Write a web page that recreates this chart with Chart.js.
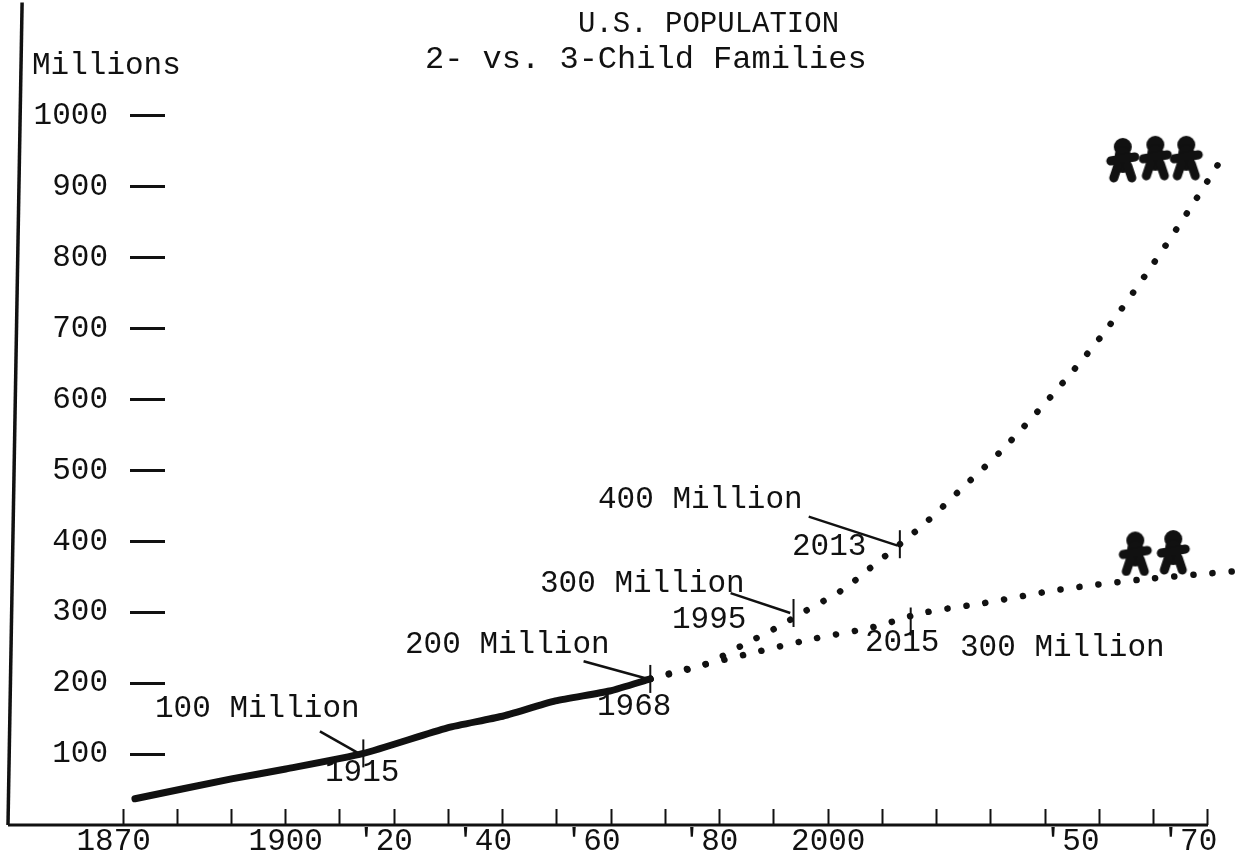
<!DOCTYPE html>
<html>
<head>
<meta charset="utf-8">
<title>U.S. Population</title>
<script src="https://cdn.jsdelivr.net/npm/chart.js@4"></script>
<style>
	body { margin: 0; background: #fff; }
	canvas { display: block; }
</style>
</head>
<body>
<canvas id="population" width="1237" height="859"></canvas>
<script>
const xTickYears = [1870, 1880, 1890, 1900, 1910, 1920, 1930, 1940, 1950, 1960, 1970, 1980, 1990, 2000, 2010, 2020, 2030, 2040, 2050, 2060, 2070];
const xTickLabels = ['1870', '', '', '1900', '', "'20", '', "'40", '', "'60", '', "'80", '', '2000', '', '', '', '', "'50", '', "'70"];
const yTickValues = [100, 200, 300, 400, 500, 600, 700, 800, 900, 1000];

const pastYears = [1872.2, 1890, 1900, 1914.3, 1929.8, 1939.7, 1949.7, 1959.7, 1967.2];
const pastValues = [37, 65, 79, 101, 137, 153, 175, 189, 206];
const threeChildYears = [1967.2, 1977.4, 1984.8, 1989.9, 1995.6, 2002.7, 2007.5, 2013.2, 2018.2, 2024.8, 2031.8, 2041, 2050.3, 2059.5, 2066.9, 2071.8];
const threeChildValues = [206, 227, 256, 276, 301, 332, 361, 396, 428, 476, 527, 604, 689, 787, 872, 931];
const twoChildYears = [1967.2, 1972.4, 1985.1, 1996.9, 2008.2, 2017.4, 2028.7, 2042.7, 2057.5, 2075];
const twoChildValues = [206, 217, 241, 262, 279, 299, 313, 332, 346, 358];

const markYears = [1914.3, 1967.2, 1993.6, 2013.2, 2015.2];
const markValues = [101, 206, 299, 396, 287];

const leaderYears = [[1906.3, 1913.7], [1954.9, 1966.3], [1982, 1993], [1996.4, 2012.8]];
const leaderValues = [[132, 100], [231, 207], [327, 299], [435, 394]];

const figureYears = [2054.3, 2060.3, 2066, 2056.6, 2063.6];
const figureValues = [938, 941, 941, 383, 385];

const axisYYears = [1851.4, 1848.8];
const axisYValues = [1160, 0];
const axisXYears = [1848.8, 2070];
const axisXValues = [0, 0];

const texts = ['U.S. POPULATION', '2- vs. 3-Child Families', 'Millions', '100 Million', '1915', '200 Million', '1968', '300 Million', '1995', '400 Million', '2013', '2015', '300 Million'];
const textLeft = [578, 425, 32, 155, 325, 405, 597, 540, 672, 598, 792, 865, 960];
const textMiddle = [24, 60, 66, 709, 773, 645, 707, 584, 620, 500, 547, 643, 648];

const ink = '#111';
const font = 'Liberation Mono';

// the typed year labels sit a bit left of their ticks, trailing spaces push them over
const labelNudge = { 1870: 1, 1920: 1, 1940: 2, 1960: 2, 1980: 1, 2050: 3, 2070: 2 };

function zip(xs, ys) {
	return xs.map((x, i) => ({ x: x, y: ys[i] }));
}

// little gingerbread person used as a point style
function makeFigure() {
	const c = document.createElement('canvas');
	c.width = 36;
	c.height = 46;
	const g = c.getContext('2d');
	g.strokeStyle = ink;
	g.fillStyle = ink;
	g.lineCap = 'round';
	g.beginPath();
	g.arc(18, 10, 9, 0, Math.PI * 2);
	g.fill();
	g.lineWidth = 16;
	g.beginPath();
	g.moveTo(18, 18);
	g.lineTo(18, 28);
	g.stroke();
	g.lineWidth = 9;
	g.beginPath();
	g.moveTo(6, 24);
	g.lineTo(30, 20);
	g.moveTo(13, 29);
	g.lineTo(9, 41);
	g.moveTo(23, 29);
	g.lineTo(27, 41);
	g.stroke();
	return c;
}

const textPlugin = {
	id: 'notes',
	afterDraw(chart) {
		const ctx = chart.ctx;
		ctx.save();
		ctx.fillStyle = ink;
		ctx.textBaseline = 'middle';
		texts.forEach((t, i) => {
			const size = i === 0 ? 29 : i === 1 ? 32 : 31;
			ctx.font = size + 'px "' + font + '"';
			ctx.fillText(t, textLeft[i], textMiddle[i]);
		});
		ctx.restore();
	},
};

const leaders = leaderYears.map((years, i) => ({
	data: zip(years, leaderValues[i]),
	borderColor: ink,
	borderWidth: 2.5,
	pointRadius: 0,
	clip: false,
}));

new Chart(document.getElementById('population').getContext('2d'), {
	type: 'line',
	data: {
		datasets: [
			{
				data: zip(axisYYears, axisYValues),
				borderColor: ink,
				borderWidth: 3.5,
				pointRadius: 0,
				clip: false,
			},
			{
				data: zip(axisXYears, axisXValues),
				borderColor: ink,
				borderWidth: 3,
				pointRadius: 0,
				clip: false,
			},
			{
				data: zip(pastYears, pastValues),
				borderColor: ink,
				borderWidth: 7,
				borderCapStyle: 'round',
				pointRadius: 0,
				tension: 0.2,
			},
			{
				data: zip(threeChildYears, threeChildValues),
				borderColor: ink,
				borderWidth: 6.5,
				borderCapStyle: 'round',
				borderDash: [0.1, 19],
				pointRadius: 0,
				tension: 0.3,
				clip: false,
			},
			{
				data: zip(twoChildYears, twoChildValues),
				borderColor: ink,
				borderWidth: 6.5,
				borderCapStyle: 'round',
				borderDash: [0.1, 19],
				pointRadius: 0,
				tension: 0.3,
				clip: false,
			},
			{
				data: zip(markYears, markValues),
				showLine: false,
				pointStyle: 'line',
				rotation: 90,
				pointRadius: 14,
				pointBorderColor: ink,
				pointBorderWidth: 2,
			},
			{
				data: zip(figureYears, figureValues),
				showLine: false,
				pointStyle: makeFigure(),
				clip: false,
			},
		].concat(leaders),
	},
	options: {
		responsive: false,
		animation: false,
		layout: { padding: 0 },
		plugins: {
			legend: { display: false },
			tooltip: { enabled: false },
		},
		scales: {
			x: {
				type: 'linear',
				min: 1871.29,
				max: 2072.4,
				afterFit: (scale) => {
					scale.height = 34;
					scale.paddingLeft = 0;
					scale.paddingRight = 0;
				},
				afterBuildTicks: (scale) => { scale.ticks = xTickYears.map((v) => ({ value: v })); },
				border: { display: false },
				grid: {
					drawOnChartArea: false,
					tickLength: -16,
					tickWidth: 2,
					tickColor: ink,
				},
				ticks: {
					autoSkip: false,
					maxRotation: 0,
					padding: 14,
					color: ink,
					font: { family: font, size: 31 },
					callback: (value) => xTickLabels[xTickYears.indexOf(value)] + ' '.repeat(labelNudge[value] || 0),
				},
			},
			y: {
				min: 0,
				max: 1141,
				afterFit: (scale) => {
					scale.width = 130;
					scale.paddingTop = 0;
					scale.paddingBottom = 0;
				},
				afterBuildTicks: (scale) => { scale.ticks = yTickValues.map((v) => ({ value: v })); },
				border: { display: false },
				grid: {
					drawOnChartArea: false,
					tickLength: -35,
					tickWidth: 3,
					tickColor: ink,
				},
				ticks: {
					padding: 57,
					color: ink,
					font: { family: font, size: 31 },
					callback: (value) => String(value),
				},
			},
		},
	},
	plugins: [textPlugin],
});
</script>
</body>
</html>
